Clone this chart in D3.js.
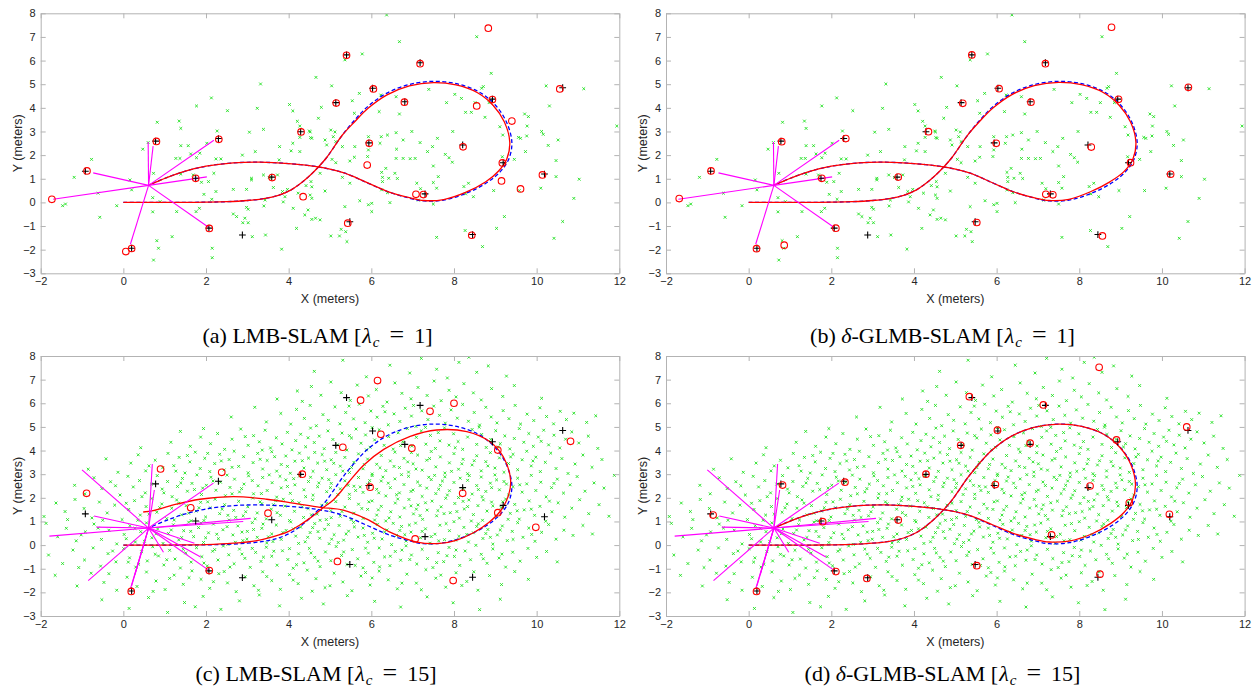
<!DOCTYPE html>
<html>
<head>
<meta charset="utf-8">
<script src="https://cdn.jsdelivr.net/npm/d3@7"></script>
<style>
  body { margin: 0; background: #fff; }
  svg { display: block; }
</style>
</head>
<body>
<svg id="fig" width="1259" height="694"></svg>
<script>
// ---- data (meters) ----
const xTicks = [-2, 0, 2, 4, 6, 8, 10, 12];
const yTicks = [-3, -2, -1, 0, 1, 2, 3, 4, 5, 6, 7, 8];

// ground truth trajectory (blue dashed)
const truePath = [[0,0],[0.5,0],[1,0],[1.5,0],[2,0.01],[2.5,0.03],[3,0.08],[3.4,0.16],[3.75,0.3],[4.05,0.52],[4.3,0.82],[4.52,1.15],[4.72,1.5],[4.92,1.9],[5.1,2.35],[5.3,2.85],[5.56,3.41],[5.89,4.02],[6.35,4.6],[6.9,4.98],[7.5,5.12],[8.06,5.02],[8.6,4.68],[9.0,4.12],[9.27,3.4],[9.4,2.55],[9.33,1.85],[9.13,1.32],[8.8,0.84],[8.3,0.39],[7.75,0.1],[7.27,0.06],[6.92,0.18],[6.4,0.45],[5.9,0.83],[5.32,1.26],[4.72,1.5],[4.0,1.64],[3.3,1.7],[2.66,1.67],[2.0,1.53],[1.5,1.32],[1.05,1.05],[0.6,0.72]];

// estimated trajectories (red)
const estPathA = [[0,0],[0.5,0],[1,0],[1.5,0],[2,0.01],[2.5,0.03],[3,0.08],[3.4,0.16],[3.75,0.3],[4.05,0.52],[4.3,0.82],[4.52,1.15],[4.72,1.5],[4.92,1.9],[5.1,2.35],[5.3,2.85],[5.58,3.38],[5.92,3.98],[6.38,4.55],[6.92,4.93],[7.5,5.07],[8.05,4.97],[8.57,4.64],[8.95,4.1],[9.22,3.4],[9.35,2.55],[9.28,1.85],[9.08,1.33],[8.76,0.86],[8.28,0.42],[7.75,0.12],[7.27,0.08],[6.92,0.2],[6.4,0.46],[5.9,0.84],[5.32,1.26],[4.72,1.5],[4.0,1.64],[3.3,1.7],[2.66,1.67],[2.0,1.53],[1.5,1.32],[1.05,1.05],[0.6,0.72]];
const estPathB = [[0,0],[0.5,0],[1,0],[1.5,0],[2,0.01],[2.5,0.03],[3,0.08],[3.4,0.16],[3.75,0.3],[4.05,0.52],[4.3,0.82],[4.52,1.15],[4.72,1.5],[4.92,1.9],[5.1,2.35],[5.3,2.85],[5.57,3.39],[5.91,3.99],[6.37,4.56],[6.91,4.94],[7.5,5.08],[8.05,4.98],[8.58,4.65],[8.97,4.1],[9.24,3.4],[9.37,2.55],[9.3,1.85],[9.08,1.3],[8.75,0.88],[8.27,0.45],[7.75,0.13],[7.27,0.08],[6.92,0.19],[6.4,0.45],[5.9,0.83],[5.32,1.26],[4.72,1.5],[4.0,1.64],[3.3,1.7],[2.66,1.67],[2.0,1.53],[1.5,1.32],[1.05,1.05],[0.6,0.72]];
const estPathC = [[0,0],[0.5,0],[1,0],[1.5,0.01],[2,0.02],[2.66,0.08],[3.2,0.18],[3.63,0.36],[4.0,0.58],[4.27,0.85],[4.5,1.12],[4.67,1.35],[4.85,1.6],[5.08,1.91],[5.28,2.3],[5.46,2.68],[5.82,3.39],[6.3,4.05],[6.94,4.6],[7.58,4.87],[8.31,4.8],[8.87,4.37],[9.19,3.74],[9.37,2.75],[9.31,2.05],[9.11,1.41],[8.85,0.97],[8.47,0.52],[8.05,0.2],[7.66,0.07],[7.1,0.13],[6.45,0.55],[5.89,1.1],[5.32,1.48],[4.76,1.6],[4.1,1.78],[3.47,1.94],[2.66,2.05],[1.85,1.94],[1.21,1.7],[0.72,1.46],[0.48,1.4]];
const estPathD = [[0,0],[0.5,0],[1,0],[1.5,0],[2,0.01],[2.5,0.03],[3,0.08],[3.4,0.16],[3.75,0.3],[4.05,0.52],[4.3,0.82],[4.52,1.15],[4.72,1.5],[4.92,1.9],[5.1,2.35],[5.3,2.85],[5.56,3.41],[5.89,4.02],[6.35,4.6],[6.9,4.98],[7.5,5.12],[8.06,5.02],[8.6,4.68],[8.99,4.12],[9.25,3.4],[9.36,2.55],[9.28,1.88],[9.08,1.38],[8.76,0.92],[8.3,0.47],[7.75,0.17],[7.27,0.13],[6.92,0.24],[6.4,0.5],[5.9,0.86],[5.32,1.27],[4.72,1.5],[4.0,1.64],[3.3,1.7],[2.66,1.67],[2.0,1.53],[1.5,1.32],[1.05,1.05],[0.6,0.72]];

// true landmarks (black +)
const trueLandmarks = [[-0.92,1.32],[0.2,-1.94],[0.78,2.59],[2.3,2.7],[1.75,1.02],[2.07,-1.09],[2.88,-1.38],[3.59,1.07],[4.29,2.99],[5.14,4.22],[5.4,6.24],[6.03,4.83],[5.94,2.52],[5.48,-0.82],[6.81,4.26],[7.18,5.91],[7.3,0.36],[8.21,2.43],[8.93,4.37],[9.19,1.68],[8.45,-1.36],[10.19,1.2],[10.63,4.85]];

// estimated landmarks (red o)
const estLmA = [[-1.73,0.13],[-0.88,1.33],[0.06,-2.08],[0.2,-1.95],[0.8,2.58],[2.31,2.67],[1.75,1.02],[2.08,-1.1],[3.6,1.05],[4.3,2.98],[4.35,0.24],[5.15,4.2],[5.4,6.22],[6.05,4.8],[5.95,2.5],[5.9,1.58],[5.43,-0.88],[6.8,4.24],[7.18,5.87],[7.08,0.34],[7.26,0.33],[8.22,2.35],[8.55,4.08],[8.83,7.37],[8.93,4.35],[9.4,3.44],[9.17,1.67],[9.15,0.91],[9.61,0.57],[8.43,-1.39],[10.14,1.16],[10.56,4.8]];
const estLmB = [[-1.68,0.16],[-0.91,1.33],[0.19,-1.96],[0.86,-1.81],[0.8,2.57],[1.77,1.02],[2.35,2.7],[2.11,-1.09],[3.62,1.07],[4.35,2.99],[5.4,6.24],[5.18,4.19],[6.06,4.81],[5.99,2.5],[5.52,-0.85],[6.83,4.24],[7.18,5.87],[7.19,0.34],[7.36,0.32],[8.29,2.34],[8.78,7.41],[8.95,4.36],[9.24,1.68],[8.56,-1.42],[10.21,1.19],[10.64,4.87]];
const estLmC = [[-0.89,2.19],[0.9,3.22],[2.38,3.08],[1.63,1.58],[3.5,1.35],[2.08,-1.08],[0.19,-1.96],[4.33,3.0],[6.15,6.96],[5.74,6.13],[7.42,5.66],[8.0,6.0],[6.23,4.69],[5.31,4.14],[6.98,4.1],[9.06,4.02],[8.21,2.19],[5.97,2.45],[9.06,1.37],[7.06,0.26],[5.18,-0.69],[7.98,-1.5],[9.98,0.75],[10.82,4.39]];
const estLmD = [[-0.86,1.27],[0.82,2.54],[1.79,0.99],[2.33,2.66],[2.11,-1.12],[0.19,-1.96],[2.86,-1.41],[3.62,1.06],[4.29,3.0],[5.34,6.28],[7.13,5.93],[8.48,7.52],[6.02,4.86],[5.13,4.22],[6.81,4.31],[8.9,4.45],[10.6,5.0],[5.97,2.56],[8.26,2.5],[9.21,1.79],[10.18,1.3],[7.33,0.43],[5.52,-0.87],[8.5,-1.23]];

// robot position and measurement rays (magenta)
const robotPos = [0.61, 0.72];
const raysLow = [[-1.7,0.13],[-0.73,1.25],[0.6,2.55],[0.72,2.38],[2.19,2.63],[2.02,1.08],[2.07,-1.06],[0.17,-1.77]];
const raysHigh = [[-1.79,0.38],[-1.0,3.18],[-0.85,-1.5],[-0.71,1.23],[-0.65,0.76],[0.7,3.43],[0.75,2.33],[2.18,2.62],[3.08,1.13],[2.9,1.0],[1.72,0.08],[1.87,-0.5],[2.07,-1.07],[0.97,-0.3],[0.17,-1.85],[0.2,-1.72],[0.28,-1.25]];

// clutter measurements (green x), flat x,y pairs
const clutterLow = [3.32,5.01,4.66,5.29,2.13,4.42,1.77,4.08,2.52,3.88,3.24,3.98,4.02,4.14,4.10,3.87,4.72,3.56,4.21,3.43,4.27,3.23,0.82,3.39,1.35,3.44,1.39,3.13,2.27,3.02,3.05,2.97,3.39,3.09,4.50,3.02,4.27,2.75,4.56,2.71,1.39,2.40,1.57,2.40,2.02,2.50,0.60,2.53,0.47,2.25,-0.77,1.82,1.85,2.08,1.63,2.05,1.27,1.86,1.37,1.86,1.77,1.89,2.36,1.84,2.24,1.84,2.88,2.0,3.19,2.15,3.78,2.36,4.10,2.5,4.06,2.18,3.77,1.8,4.27,2.15,-1.19,1.06,0.16,0.95,0.20,0.53,0.73,1.23,1.39,1.2,1.69,1.16,1.89,0.85,2.06,0.88,2.19,1.23,3.1,1.02,3.1,0.95,3.39,1.16,3.53,1.05,3.73,1.16,3.63,0.63,3.85,0.46,3.97,0.55,3.91,0.24,3.87,0.02,4.11,-0.25,4.23,0.39,4.56,0.66,4.52,0.31,4.56,0.17,4.39,-0.53,4.65,-0.67,4.76,-0.74,4.19,-1.10,3.83,-1.98,3.44,-1.38,3.12,-1.45,2.94,-0.67,2.98,-0.21,3.02,-0.29,2.66,-0.49,2.74,-0.6,2.89,-0.86,3.02,-0.86,3.4,-0.15,3.43,0.10,2.98,0.55,2.66,0.55,2.24,0.46,1.95,0.34,2.14,0.13,1.76,-0.39,1.84,-0.25,1.29,-0.39,0.89,0.03,0.71,0.2,0.71,-0.4,-0.16,-0.14,-0.61,0.39,-0.57,-0.63,-1.47,-0.14,-1.40,-0.07,0.81,-1.62,0.85,-1.94,0.73,-2.44,1.18,-1.45,2.15,-1.94,2.15,-2.34,
6.37,7.93,6.68,6.8,5.78,6.28,5.36,6.03,5.04,4.93,5.71,4.61,6.23,4.54,6.6,4.47,5.54,4.3,4.79,4.02,6.19,3.84,6.68,3.74,5.59,3.77,7.39,4.78,7.82,4.22,8.02,4.57,8.18,4.40,8.28,3.81,8.42,3.81,8.51,4.22,8.55,7.01,8.9,5.46,8.71,4.9,8.67,4.83,8.75,3.6,9.11,3.2,9.18,2.85,9.71,3.74,9.8,3.63,9.77,3.23,9.56,2.75,9.61,2.71,9.76,2.81,9.73,2.15,9.46,1.82,9.17,1.93,10.23,4.93,10.31,4.08,10.12,3.0,10.16,2.88,10.28,2.41,10.52,2.64,10.47,1.77,10.47,1.09,11.03,0.98,11.14,4.81,11.94,3.23,10.1,0.6,9.58,0.5,8.96,0.5,9.22,-0.6,9.03,-1.1,8.69,-1.87,8.27,-1.19,8.47,0.24,8.28,0.36,8.35,0.81,8.24,0.67,8.85,4.22,10.63,-0.81,10.42,-1.52,10.9,0.17,7.58,-1.48,7.5,-0.07,7.5,0.84,7.62,1.09,7.97,3.0,7.6,2.71,7.48,2.36,7.79,2.03,7.88,1.89,7.96,1.7,7.5,1.54,7.36,2.15,7.18,2.53,6.98,3.0,6.6,2.95,6.77,2.64,6.94,1.85,6.61,2.25,6.6,1.86,6.77,1.86,7.06,1.86,6.39,2.85,6.24,2.78,6.21,2.5,5.93,2.78,5.93,2.22,5.91,1.94,5.6,2.36,5.59,1.91,5.48,1.75,5.3,2.36,5.14,2.57,5.08,2.78,5.02,3.06,5.12,2.98,4.88,2.64,4.92,2.43,5.05,1.82,5.14,1.68,4.53,2.74,4.52,2.98,4.54,0.88,4.42,0.71,4.76,1.23,5.3,1.06,5.48,0.81,5.72,0.07,5.36,-0.18,5.93,-0.1,6.01,-0.39,6.01,-0.04,6.25,1.27,6.27,1.06,6.35,1.44,6.42,1.02,6.27,0.88,6.25,0.53,6.39,0.41,6.45,-0.01,6.63,1.01,6.57,1.23,7.1,0.81,7.19,0.58,7.58,0.6,7.14,0.1,5.27,-1.14,5.38,-1.24,5.41,-1.66,5.23,-1.42,5.02,-1.42,4.88,0.48,4.47,-0.32,4.56,-0.72];

const clutterHigh = [4.62,7.35,5.31,7.82,5.88,7.12,6.45,7.61,6.93,7.28,7.21,7.9,7.58,7.44,7.84,7.07,8.12,7.73,8.36,7.95,8.55,7.31,8.83,7.58,9.27,7.15,
3.72,6.18,4.21,6.52,4.33,6.08,4.55,6.71,4.78,6.34,5.02,6.9,5.27,6.45,5.49,6.12,5.66,6.77,5.93,6.31,6.12,6.58,6.38,6.05,6.57,6.86,6.74,6.42,6.96,6.19,7.13,6.67,7.35,6.33,7.52,6.94,7.69,6.11,7.88,6.55,8.05,6.27,8.24,6.83,8.47,6.44,8.66,6.14,8.91,6.62,9.18,6.29,9.46,6.75,10.12,6.21,
2.61,5.42,3.18,5.83,3.46,5.21,3.81,5.57,4.05,5.12,4.19,5.74,4.38,5.36,4.52,5.91,4.67,5.05,4.83,5.52,4.96,5.28,5.12,5.85,5.24,5.13,5.38,5.61,5.57,5.34,5.71,5.96,5.85,5.18,5.99,5.67,6.14,5.41,6.28,5.87,6.41,5.09,6.55,5.55,6.69,5.23,6.82,5.79,6.97,5.46,7.08,5.02,7.22,5.68,7.37,5.31,7.51,5.88,7.65,5.49,7.79,5.16,7.93,5.72,8.08,5.37,8.21,5.95,8.35,5.24,8.49,5.61,8.62,5.08,8.77,5.83,8.9,5.42,9.04,5.17,9.19,5.69,9.33,5.35,9.48,5.91,9.61,5.12,9.77,5.54,9.93,5.27,10.08,5.81,10.24,5.44,10.41,5.13,10.57,5.66,10.72,5.31,10.9,5.58,11.21,5.19,11.43,5.47,7.02,5.91,6.33,5.64,5.46,5.88,
0.42,4.12,1.15,4.35,1.38,4.81,1.62,4.18,1.87,4.57,2.11,4.29,2.28,4.72,2.45,4.05,2.63,4.48,2.84,4.91,3.02,4.22,3.15,4.63,3.29,4.37,3.43,4.86,3.56,4.11,3.7,4.54,3.84,4.28,3.97,4.77,4.08,4.03,4.17,4.42,4.29,4.69,4.41,4.16,4.53,4.95,4.62,4.34,4.74,4.61,4.86,4.08,4.95,4.83,5.07,4.47,5.18,4.24,5.29,4.74,5.41,4.02,5.52,4.53,5.63,4.91,5.75,4.31,5.86,4.66,5.97,4.14,6.08,4.45,6.19,4.88,6.31,4.22,6.42,4.59,6.53,4.06,6.65,4.75,6.76,4.37,6.87,4.93,6.98,4.19,7.09,4.56,7.21,4.83,7.32,4.27,7.43,4.64,7.55,4.09,7.66,4.41,7.77,4.96,7.88,4.23,7.99,4.71,8.1,4.38,8.21,4.05,8.33,4.57,8.44,4.89,8.55,4.26,8.67,4.68,8.78,4.13,8.89,4.47,9.01,4.84,9.12,4.29,9.23,4.62,9.35,4.07,9.46,4.51,9.58,4.93,9.69,4.35,9.81,4.72,9.92,4.18,10.04,4.57,10.17,4.86,10.29,4.24,10.42,4.65,10.56,4.11,10.7,4.48,10.85,4.79,11.02,4.32,11.25,4.61,11.48,4.09,7.31,4.98,6.02,4.97,4.47,4.54,3.36,4.02,5.47,4.63,8.03,4.12,9.07,4.15,6.71,4.21,2.95,4.59,1.94,4.93,8.61,4.99,7.62,4.76,5.88,4.03,10.11,4.39,
-0.85,3.21,-0.42,3.65,-0.13,3.08,0.18,3.47,0.36,3.82,0.54,3.14,0.77,3.59,0.95,3.27,1.08,3.88,1.22,3.36,1.35,3.71,1.49,3.05,1.61,3.52,1.74,3.93,1.86,3.24,1.97,3.67,2.09,3.11,2.21,3.45,2.33,3.84,2.44,3.18,2.56,3.62,2.68,3.97,2.79,3.33,2.91,3.74,3.02,3.06,3.14,3.49,3.25,3.88,3.37,3.22,3.48,3.58,3.59,3.95,3.71,3.13,3.82,3.41,3.93,3.77,4.04,3.04,4.15,3.55,4.26,3.89,4.37,3.26,4.48,3.68,4.59,3.12,4.7,3.47,4.81,3.83,4.92,3.19,5.03,3.61,5.14,3.92,5.25,3.34,5.36,3.71,5.47,3.07,5.58,3.5,5.69,3.86,5.8,3.23,5.91,3.64,6.02,3.01,6.13,3.42,6.24,3.79,6.35,3.15,6.46,3.56,6.57,3.93,6.68,3.28,6.79,3.67,6.9,3.09,7.01,3.44,7.12,3.81,7.23,3.17,7.34,3.59,7.45,3.96,7.56,3.31,7.67,3.73,7.78,3.05,7.89,3.48,8.0,3.87,8.11,3.21,8.22,3.63,8.33,3.02,8.44,3.39,8.55,3.78,8.66,3.14,8.77,3.53,8.88,3.91,8.99,3.26,9.1,3.69,9.21,3.08,9.32,3.45,9.43,3.84,9.54,3.19,9.65,3.61,9.76,3.97,9.87,3.35,9.98,3.72,10.09,3.11,10.21,3.5,10.34,3.89,10.47,3.24,10.61,3.66,10.76,3.03,10.93,3.43,11.12,3.81,11.34,3.29,11.58,3.62,3.97,3.33,5.52,3.28,6.88,3.52,7.41,3.66,8.49,3.57,2.63,3.29,1.27,3.13,4.63,3.92,6.21,3.27,7.94,3.12,9.37,3.73,5.09,3.46,3.31,3.63,2.04,3.88,0.62,3.35,8.82,3.35,6.55,3.33,4.33,3.57,7.08,3.22,5.83,3.41,9.91,3.56,3.66,3.74,2.37,3.56,1.55,3.79,4.87,3.55,6.97,3.91,8.19,3.44,5.31,3.13,
-1.18,2.53,-0.93,2.17,-0.71,2.85,-0.52,2.39,-0.31,2.68,-0.08,2.12,0.11,2.91,0.24,2.46,0.39,2.73,0.53,2.21,0.68,2.58,0.82,2.94,0.94,2.37,1.07,2.69,1.18,2.05,1.31,2.48,1.43,2.82,1.55,2.28,1.66,2.61,1.78,2.97,1.89,2.14,2.01,2.53,2.12,2.87,2.24,2.32,2.35,2.66,2.47,2.09,2.58,2.44,2.69,2.79,2.81,2.25,2.92,2.58,3.03,2.93,3.15,2.17,3.26,2.51,3.37,2.86,3.48,2.31,3.6,2.64,3.71,2.03,3.82,2.42,3.93,2.76,4.04,2.19,4.15,2.55,4.26,2.92,4.37,2.34,4.48,2.69,4.59,2.11,4.7,2.47,4.81,2.83,4.92,2.26,5.03,2.61,5.14,2.98,5.25,2.38,5.36,2.72,5.47,2.15,5.58,2.49,5.69,2.86,5.8,2.23,5.91,2.57,6.02,2.94,6.13,2.36,6.24,2.71,6.35,2.08,6.46,2.43,6.57,2.8,6.68,2.21,6.79,2.56,6.9,2.91,7.01,2.33,7.12,2.67,7.23,2.06,7.34,2.41,7.45,2.77,7.56,2.18,7.67,2.53,7.78,2.89,7.89,2.3,8.0,2.65,8.11,2.01,8.22,2.39,8.33,2.74,8.44,2.16,8.55,2.52,8.66,2.88,8.77,2.27,8.88,2.62,8.99,2.97,9.1,2.34,9.21,2.69,9.32,2.12,9.43,2.47,9.54,2.83,9.65,2.24,9.76,2.59,9.87,2.95,9.98,2.31,10.1,2.66,10.23,2.04,10.36,2.43,10.5,2.79,10.65,2.2,10.81,2.55,10.98,2.9,11.17,2.28,11.39,2.63,11.63,2.41,11.88,2.95,0.45,2.05,1.92,2.41,3.12,2.73,4.41,2.05,5.62,2.31,6.73,2.98,7.84,2.12,8.91,2.43,2.51,2.96,3.97,2.48,5.19,2.14,6.41,2.62,7.53,2.95,8.68,2.05,1.39,2.63,2.86,2.39,4.12,2.81,5.44,2.53,6.61,2.13,7.72,2.71,9.03,2.76,3.53,2.97,4.73,2.63,5.96,2.73,7.18,2.52,8.37,2.94,9.59,2.55,0.98,2.21,2.17,2.71,3.34,2.18,4.53,2.87,5.73,2.46,6.96,2.27,8.15,2.83,9.27,2.58,1.72,2.35,2.63,2.17,3.79,2.91,5.01,2.43,6.18,2.21,7.39,2.87,8.59,2.35,-0.19,2.51,10.42,2.61,4.97,2.77,6.28,2.88,7.63,2.36,
-1.92,1.21,-1.63,1.78,-1.41,1.42,-1.17,1.93,-0.95,1.55,-0.76,1.15,-0.58,1.82,-0.39,1.36,-0.21,1.69,-0.03,1.08,0.13,1.51,0.27,1.88,0.41,1.27,0.55,1.63,0.69,1.97,0.81,1.39,0.93,1.74,1.05,1.12,1.17,1.56,1.29,1.91,1.41,1.28,1.52,1.67,1.64,1.03,1.76,1.44,1.87,1.81,1.99,1.19,2.1,1.58,2.22,1.94,2.33,1.33,2.45,1.71,2.56,1.06,2.67,1.47,2.79,1.85,2.9,1.24,3.01,1.62,3.13,1.99,3.24,1.36,3.35,1.75,3.46,1.11,3.58,1.52,3.69,1.88,3.8,1.26,3.91,1.65,4.02,1.04,4.14,1.43,4.25,1.79,4.36,1.17,4.47,1.55,4.58,1.92,4.69,1.31,4.8,1.69,4.91,1.08,5.02,1.46,5.14,1.84,5.25,1.22,5.36,1.61,5.47,1.97,5.58,1.35,5.69,1.73,5.8,1.13,5.91,1.51,6.02,1.87,6.13,1.27,6.24,1.64,6.35,1.02,6.47,1.41,6.58,1.78,6.69,1.19,6.8,1.57,6.91,1.93,7.02,1.32,7.13,1.7,7.24,1.09,7.35,1.48,7.47,1.86,7.58,1.24,7.69,1.62,7.8,1.98,7.91,1.37,8.02,1.76,8.13,1.14,8.25,1.53,8.36,1.91,8.47,1.29,8.58,1.67,8.69,1.05,8.8,1.44,8.91,1.82,9.02,1.21,9.14,1.59,9.25,1.95,9.36,1.34,9.47,1.72,9.58,1.1,9.7,1.49,9.82,1.87,9.95,1.26,10.08,1.64,10.22,1.01,10.37,1.41,10.52,1.79,10.68,1.18,10.85,1.56,11.04,1.92,11.26,1.33,11.51,1.71,11.75,1.22,0.35,1.05,1.58,1.35,2.72,1.17,3.87,1.94,5.03,1.16,6.17,1.49,7.31,1.79,8.42,1.02,9.53,1.45,0.88,1.58,2.04,1.83,3.19,1.11,4.33,1.62,5.51,1.08,6.64,1.95,7.76,1.33,8.94,1.66,-0.5,1.05,1.23,1.06,2.39,1.52,3.63,1.71,4.76,1.05,5.94,1.83,7.09,1.52,8.22,1.85,9.31,1.09,0.62,1.31,1.83,1.58,2.96,1.41,4.09,1.88,5.29,1.42,6.43,1.15,7.61,1.46,8.71,1.91,9.87,1.52,1.34,1.77,2.53,1.26,3.72,1.37,4.92,1.77,6.08,1.06,7.18,1.25,8.33,1.63,10.31,1.86,1.95,1.04,3.31,1.83,4.55,1.28,5.77,1.55,6.96,1.66,8.07,1.42,9.18,1.83,0.07,1.77,-1.35,1.08,
-1.87,0.92,-1.59,0.35,-1.38,0.71,-1.14,0.18,-0.92,0.56,-0.71,0.89,-0.53,0.24,-0.35,0.63,-0.16,0.05,0.02,0.45,0.16,0.82,0.29,0.13,0.42,0.57,0.56,0.94,0.69,0.31,0.83,0.68,0.96,0.07,1.09,0.49,1.21,0.86,1.34,0.22,1.46,0.61,1.58,0.97,1.7,0.36,1.82,0.74,1.94,0.11,2.06,0.52,2.18,0.89,2.3,0.27,2.41,0.65,2.53,0.03,2.65,0.43,2.77,0.81,2.89,0.19,3.0,0.58,3.12,0.95,3.24,0.33,3.35,0.71,3.47,0.09,3.59,0.47,3.7,0.85,3.82,0.24,3.94,0.62,4.05,0.98,4.17,0.38,4.29,0.76,4.4,0.14,4.52,0.53,4.63,0.91,4.75,0.29,4.87,0.67,4.98,0.06,5.1,0.44,5.22,0.83,5.33,0.21,5.45,0.59,5.57,0.96,5.68,0.34,5.8,0.72,5.91,0.12,6.03,0.5,6.15,0.88,6.26,0.26,6.38,0.64,6.49,0.02,6.61,0.41,6.73,0.79,6.84,0.17,6.96,0.55,7.07,0.93,7.19,0.31,7.31,0.69,7.42,0.08,7.54,0.46,7.66,0.84,7.77,0.23,7.89,0.61,8.0,0.99,8.12,0.37,8.24,0.75,8.35,0.13,8.47,0.52,8.59,0.9,8.7,0.28,8.82,0.66,8.94,0.04,9.05,0.43,9.17,0.81,9.29,0.19,9.41,0.58,9.54,0.95,9.67,0.33,9.81,0.72,9.96,0.16,10.12,0.54,10.29,0.87,10.47,0.25,10.66,0.63,10.88,0.41,11.12,0.83,11.35,0.47,0.28,0.71,1.41,0.32,2.51,0.78,3.62,0.15,4.71,0.57,5.83,0.41,6.92,0.85,8.04,0.21,9.12,0.64,0.79,0.48,1.88,0.93,2.99,0.25,4.11,0.69,5.2,0.11,6.32,0.55,7.45,0.36,8.55,0.79,-0.61,0.72,0.51,0.16,1.63,0.58,2.71,0.12,3.86,0.53,4.96,0.87,6.07,0.29,7.23,0.58,8.31,0.45,9.43,0.24,1.16,0.64,2.26,0.46,3.38,0.89,4.46,0.33,5.59,0.77,6.69,0.62,7.81,0.91,8.88,0.33,0.07,0.27,1.99,0.31,3.15,0.66,4.24,0.07,5.39,0.47,6.53,0.92,7.63,0.18,8.77,0.49,9.88,0.45,-1.02,0.43,2.87,0.55,5.04,0.25,6.81,0.44,4.58,0.74,3.51,0.35,
-1.81,-0.42,-1.47,-0.78,-1.22,-0.21,-0.94,-0.63,-0.73,-0.12,-0.55,-0.89,-0.37,-0.36,-0.18,-0.71,0.01,-0.15,0.15,-0.54,0.3,-0.93,0.44,-0.28,0.58,-0.67,0.71,-0.07,0.85,-0.46,0.98,-0.84,1.12,-0.22,1.25,-0.59,1.38,-0.97,1.51,-0.33,1.64,-0.72,1.77,-0.11,1.9,-0.49,2.03,-0.88,2.16,-0.26,2.29,-0.63,2.42,-0.04,2.55,-0.41,2.68,-0.79,2.81,-0.17,2.94,-0.56,3.07,-0.94,3.2,-0.31,3.33,-0.69,3.46,-0.09,3.59,-0.47,3.72,-0.85,3.85,-0.24,3.98,-0.61,4.11,-0.98,4.24,-0.37,4.37,-0.75,4.5,-0.14,4.63,-0.52,4.76,-0.91,4.89,-0.29,5.02,-0.66,5.15,-0.06,5.28,-0.44,5.41,-0.82,5.54,-0.19,5.67,-0.58,5.8,-0.96,5.93,-0.34,6.06,-0.73,6.19,-0.12,6.32,-0.5,6.45,-0.87,6.58,-0.27,6.71,-0.64,6.84,-0.03,6.97,-0.42,7.1,-0.8,7.23,-0.18,7.36,-0.57,7.49,-0.95,7.62,-0.32,7.75,-0.7,7.88,-0.1,8.01,-0.48,8.14,-0.86,8.27,-0.25,8.4,-0.62,8.53,-0.01,8.66,-0.39,8.8,-0.77,8.94,-0.16,9.09,-0.55,9.25,-0.93,9.42,-0.3,9.6,-0.68,9.79,-0.14,10.0,-0.52,10.24,-0.27,10.5,-0.71,0.37,-0.81,1.45,-0.18,2.58,-0.93,3.64,-0.26,4.71,-0.68,5.86,-0.13,6.93,-0.61,8.05,-0.21,9.16,-0.38,-1.08,-0.95,0.77,-0.39,1.95,-0.76,3.12,-0.14,4.19,-0.83,5.33,-0.29,6.46,-0.47,7.58,-0.74,8.71,-0.58,-0.26,-0.25,1.05,-0.62,2.21,-0.19,3.39,-0.51,4.54,-0.33,5.61,-0.86,6.74,-0.21,7.83,-0.45,2.87,-0.38,4.02,-0.15,6.2,-0.92,0.12,-0.72,
-1.65,-1.28,-1.12,-1.73,-0.78,-1.19,-0.47,-1.58,-0.16,-1.91,0.09,-1.36,0.33,-1.75,0.56,-1.14,0.79,-1.52,1.01,-1.88,1.23,-1.27,1.45,-1.66,1.66,-1.09,1.88,-1.45,2.09,-1.83,2.31,-1.21,2.52,-1.6,2.73,-1.97,2.95,-1.34,3.16,-1.72,3.37,-1.13,3.59,-1.5,3.8,-1.87,4.02,-1.25,4.23,-1.63,4.45,-1.06,4.66,-1.42,4.88,-1.8,5.1,-1.19,5.31,-1.56,5.53,-1.93,5.75,-1.31,5.97,-1.69,6.19,-1.1,6.41,-1.47,6.63,-1.85,6.86,-1.23,7.09,-1.61,7.32,-1.04,7.56,-1.4,7.8,-1.78,8.05,-1.17,8.31,-1.54,8.58,-1.91,8.86,-1.29,9.15,-1.67,9.47,-1.12,9.8,-1.45,0.72,-1.96,1.59,-1.38,2.44,-1.12,3.27,-1.91,4.11,-1.48,5.0,-1.72,5.86,-1.16,6.74,-1.61,7.68,-1.27,8.48,-1.13,-0.35,-1.21,1.12,-1.41,2.18,-1.55,3.47,-1.33,4.57,-1.95,6.02,-1.39,7.21,-1.89,8.19,-1.71,
-0.52,-2.31,0.14,-2.68,0.61,-2.22,1.07,-2.85,1.48,-2.43,1.93,-2.17,2.36,-2.72,2.81,-2.36,3.29,-2.11,3.78,-2.57,4.31,-2.25,4.84,-2.49,5.42,-2.14,6.08,-2.38,6.71,-2.62,7.35,-2.19,7.98,-2.44,8.62,-2.73,9.12,-2.29,1.74,-2.61];

// subplot captions
const captionTags = ["(a)", "(b)", "(c)", "(d)"];
const captionNames = ["LMB-SLAM", "-GLMB-SLAM", "LMB-SLAM", "-GLMB-SLAM"];
const captionDelta = [false, true, false, true];
const captionLambda = ["1", "1", "15", "15"];

// ---- layout ----
const plotW = 578.6, plotH = 260;
const panels = [
  { id: "a", left: 40.7, top: 13.3, est: estPathA, lm: estLmA, rays: raysLow, clutter: clutterLow, capX: 317.5, capY: 342.5 },
  { id: "b", left: 666, top: 13.3, est: estPathB, lm: estLmB, rays: raysLow, clutter: clutterLow, capX: 942.5, capY: 342.5 },
  { id: "c", left: 40.7, top: 356, est: estPathC, lm: estLmC, rays: raysHigh, clutter: clutterHigh, capX: 316, capY: 681 },
  { id: "d", left: 666, top: 356, est: estPathD, lm: estLmD, rays: raysHigh, clutter: clutterHigh, capX: 942.5, capY: 681 }
];

const svg = d3.select("#fig");
const sans = "'Liberation Sans', Arial, Helvetica, sans-serif";
const serif = "'Liberation Serif', 'Times New Roman', Times, serif";
const boxColor = "#b3b3b3";
const textColor = "#262626";

const crossPath = "M-1.4,-1.4L1.4,1.4M-1.4,1.4L1.4,-1.4";
const plusPath = "M-3.4,0H3.4M0,-3.4V3.4";

panels.forEach((p, k) => {
  const x = d3.scaleLinear().domain([-2, 12]).range([p.left, p.left + plotW]);
  const y = d3.scaleLinear().domain([-3, 8]).range([p.top + plotH, p.top]);

  svg.append("clipPath").attr("id", "clip-" + p.id)
    .append("rect").attr("x", p.left).attr("y", p.top).attr("width", plotW).attr("height", plotH);

  const plot = svg.append("g").attr("clip-path", `url(#clip-${p.id})`);

  // clutter
  const pts = d3.range(0, p.clutter.length, 2).map(i => [p.clutter[i], p.clutter[i + 1]]);
  plot.append("g")
    .attr("stroke", "#1fe01f")
    .attr("stroke-width", 0.9)
    .attr("fill", "none")
    .selectAll("path")
    .data(pts)
    .join("path")
    .attr("transform", d => `translate(${x(d[0])},${y(d[1])})`)
    .attr("d", crossPath);

  const line = d3.line().x(d => x(d[0])).y(d => y(d[1])).curve(d3.curveCatmullRom.alpha(0.5));

  // ground truth (under the estimate)
  plot.append("path").datum(truePath)
    .attr("d", line).attr("fill", "none")
    .attr("stroke", "#0000ff").attr("stroke-width", 1.3)
    .attr("stroke-dasharray", "4,2.5");

  // estimated path
  plot.append("path").datum(p.est)
    .attr("d", line).attr("fill", "none")
    .attr("stroke", "#ff0000").attr("stroke-width", 1.3);

  // measurement rays
  plot.append("g").selectAll("line")
    .data(p.rays)
    .join("line")
    .attr("x1", x(robotPos[0])).attr("y1", y(robotPos[1]))
    .attr("x2", d => x(d[0])).attr("y2", d => y(d[1]))
    .attr("stroke", "#ff00ff").attr("stroke-width", 1.1);

  // true landmarks
  plot.append("g").selectAll("path")
    .data(trueLandmarks)
    .join("path")
    .attr("transform", d => `translate(${x(d[0])},${y(d[1])})`)
    .attr("d", plusPath)
    .attr("stroke", "#000").attr("stroke-width", 1.1);

  // estimated landmarks
  plot.append("g").selectAll("circle")
    .data(p.lm)
    .join("circle")
    .attr("cx", d => x(d[0])).attr("cy", d => y(d[1]))
    .attr("r", 3.3)
    .attr("fill", "none")
    .attr("stroke", "#ff0000").attr("stroke-width", 1.1);

  // axes (inward ticks on all four sides)
  const styleAxis = g => {
    g.select(".domain").attr("stroke", boxColor);
    g.selectAll(".tick line").attr("stroke", boxColor);
    g.selectAll(".tick text").attr("fill", textColor);
    g.attr("font-family", sans).attr("font-size", 11);
  };
  svg.append("g").attr("transform", `translate(0,${p.top + plotH})`)
    .call(d3.axisBottom(x).tickValues(xTicks).tickSize(-5).tickSizeOuter(0).tickPadding(4))
    .call(styleAxis);
  svg.append("g").attr("transform", `translate(0,${p.top})`)
    .call(d3.axisTop(x).tickValues(xTicks).tickSize(-5).tickSizeOuter(0).tickFormat(""))
    .call(styleAxis);
  svg.append("g").attr("transform", `translate(${p.left},0)`)
    .call(d3.axisLeft(y).tickValues(yTicks).tickSize(-5).tickSizeOuter(0).tickPadding(5))
    .call(styleAxis);
  svg.append("g").attr("transform", `translate(${p.left + plotW},0)`)
    .call(d3.axisRight(y).tickValues(yTicks).tickSize(-5).tickSizeOuter(0).tickFormat(""))
    .call(styleAxis);

  // axis labels
  svg.append("text")
    .attr("x", p.left + plotW / 2).attr("y", p.top + plotH + 30)
    .attr("text-anchor", "middle")
    .attr("font-family", sans).attr("font-size", 12.5).attr("fill", textColor)
    .text("X (meters)");
  svg.append("text")
    .attr("transform", `translate(${p.left - 19},${p.top + plotH / 2}) rotate(-90)`)
    .attr("text-anchor", "middle")
    .attr("font-family", sans).attr("font-size", 12.5).attr("fill", textColor)
    .text("Y (meters)");

  // caption
  const t = svg.append("text")
    .attr("x", p.capX).attr("y", p.capY)
    .attr("text-anchor", "middle")
    .attr("font-family", serif).attr("font-size", 22).attr("fill", "#000");
  t.append("tspan").text(captionTags[k] + " ");
  if (captionDelta[k]) t.append("tspan").attr("font-style", "italic").text("δ");
  t.append("tspan").text(captionNames[k] + " [");
  t.append("tspan").attr("font-style", "italic").attr("dx", 1).text("λ");
  t.append("tspan").attr("font-style", "italic").attr("font-size", 15).attr("dy", 4).attr("dx", 1).text("c");
  t.append("tspan").attr("dy", -4).attr("dx", 10).attr("font-size", 26).text("=");
  t.append("tspan").attr("dx", 10).text(captionLambda[k] + "]");
});
</script>
</body>
</html>
